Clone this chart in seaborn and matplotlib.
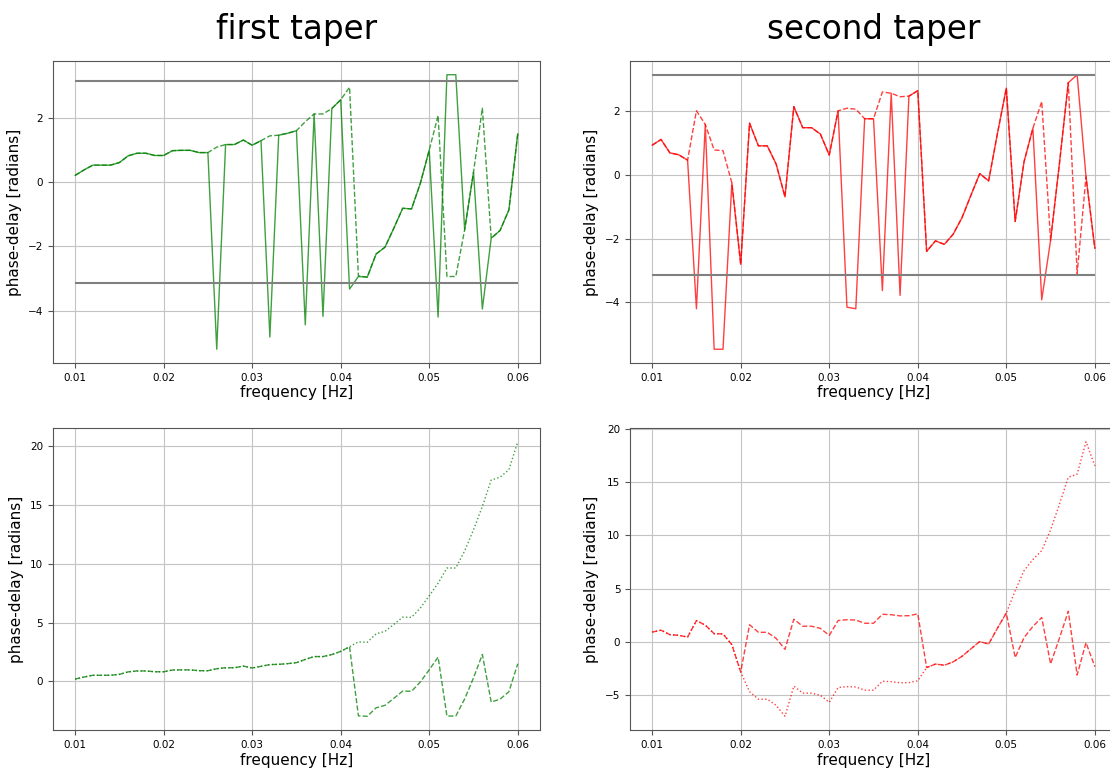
import matplotlib
matplotlib.use("Agg")
import matplotlib.pyplot as plt
import seaborn as sns

# frequency axis, 0.010 .. 0.060 Hz
freq = [round(0.010 + 0.001 * k, 3) for k in range(51)]

# first taper: wrapped phase (solid), wrapped phase (dashed), unwrapped (dotted)
taper1_solid = [0.20, 0.37, 0.52, 0.52, 0.52, 0.60, 0.81, 0.89, 0.89, 0.82,
                0.82, 0.97, 0.98, 0.98, 0.91, 0.91, -5.20, 1.16, 1.16, 1.30,
                1.14, 1.28, -4.82, 1.45, 1.51, 1.59, -4.44, 2.11, -4.18, 2.28,
                2.55, -3.33, -2.94, -2.96, -2.24, -2.03, -1.44, -0.82, -0.84, -0.04,
                0.99, -4.20, 3.33, 3.33, -1.49, 0.30, -3.95, -1.75, -1.51, -0.87,
                1.50]
taper1_dashed = [0.20, 0.37, 0.52, 0.52, 0.52, 0.60, 0.81, 0.89, 0.89, 0.82,
                 0.82, 0.97, 0.98, 0.98, 0.91, 0.91, 1.08, 1.16, 1.16, 1.30,
                 1.14, 1.28, 1.43, 1.45, 1.51, 1.59, 1.87, 2.11, 2.11, 2.28,
                 2.55, 2.94, -2.92, -2.96, -2.24, -2.03, -1.44, -0.82, -0.84, -0.04,
                 0.99, 2.06, -2.94, -2.94, -1.49, 0.30, 2.29, -1.75, -1.51, -0.87,
                 1.50]
taper1_unwrapped = [0.20, 0.37, 0.52, 0.52, 0.52, 0.60, 0.81, 0.89, 0.89, 0.82,
                    0.82, 0.97, 0.98, 0.98, 0.91, 0.91, 1.08, 1.16, 1.16, 1.30,
                    1.14, 1.28, 1.43, 1.45, 1.51, 1.59, 1.87, 2.11, 2.11, 2.28,
                    2.55, 2.94, 3.36, 3.32, 4.04, 4.25, 4.84, 5.46, 5.44, 6.24,
                    7.27, 8.34, 9.63, 9.63, 11.08, 12.87, 14.86, 17.10, 17.34, 17.98,
                    20.35]

# second taper
taper2_solid = [0.93, 1.11, 0.69, 0.63, 0.46, -4.20, 1.58, -5.47, -5.47, -0.25,
                -2.81, 1.62, 0.91, 0.91, 0.34, -0.69, 2.14, 1.48, 1.48, 1.28,
                0.62, 2.01, -4.15, -4.20, 1.76, 1.76, -3.63, 2.56, -3.78, 2.47,
                2.64, -2.40, -2.07, -2.18, -1.86, -1.34, -0.64, 0.04, -0.19, 1.30,
                2.72, -1.46, 0.41, 1.46, -3.92, -2.05, 0.36, 2.89, 3.14, -0.06,
                -2.31]
taper2_dashed = [0.93, 1.11, 0.69, 0.63, 0.46, 2.01, 1.58, 0.78, 0.76, -0.25,
                 -2.81, 1.62, 0.91, 0.91, 0.34, -0.69, 2.14, 1.48, 1.48, 1.28,
                 0.62, 2.01, 2.09, 2.06, 1.76, 1.76, 2.60, 2.56, 2.45, 2.47,
                 2.64, -2.40, -2.07, -2.18, -1.86, -1.34, -0.64, 0.04, -0.19, 1.30,
                 2.72, -1.46, 0.41, 1.46, 2.30, -2.05, 0.36, 2.89, -3.10, -0.06,
                 -2.31]
taper2_unwrapped = [0.93, 1.11, 0.69, 0.63, 0.46, 2.01, 1.58, 0.78, 0.76, -0.25,
                    -2.81, -4.66, -5.37, -5.37, -5.94, -6.97, -4.14, -4.80, -4.80, -5.00,
                    -5.66, -4.27, -4.19, -4.22, -4.52, -4.52, -3.68, -3.72, -3.83, -3.81,
                    -3.64, -2.40, -2.07, -2.18, -1.86, -1.34, -0.64, 0.04, -0.19, 1.30,
                    2.72, 4.82, 6.69, 7.74, 8.58, 10.52, 12.93, 15.46, 15.75, 18.79,
                    16.54]

titles = ["first taper", "second taper"]
colors = ["green", "red"]
pi_lines = [-3.14159, 3.14159]

sns.set_style("ticks", {"axes.grid": True, "grid.color": "#c4c4c4",
                        "axes.edgecolor": "#555555", "text.color": "black",
                        "axes.labelcolor": "black"})
plt.rcParams["font.family"] = ["DejaVu Sans"]
plt.rcParams["xtick.labelsize"] = 7.5
plt.rcParams["ytick.labelsize"] = 7.5

fig = plt.figure(figsize=(11.1, 7.69), dpi=100)
w, h = 0.4387, 0.3927
ax_tl = fig.add_axes([0.0477, 0.5280, w, h])
ax_tr = fig.add_axes([0.5676, 0.5280, w, h])
ax_bl = fig.add_axes([0.0477, 0.0507, w, h])
ax_br = fig.add_axes([0.5676, 0.0507, w, h])

top = [(ax_tl, taper1_solid, taper1_dashed), (ax_tr, taper2_solid, taper2_dashed)]
bottom = [(ax_bl, taper1_dashed, taper1_unwrapped), (ax_br, taper2_dashed, taper2_unwrapped)]

for i, (ax, solid, dashed) in enumerate(top):
    c = colors[i]
    sns.lineplot(x=freq, y=solid, ax=ax, color=c, lw=1, alpha=0.75, errorbar=None)
    sns.lineplot(x=freq, y=dashed, ax=ax, color=c, lw=1, ls="--", alpha=0.75, errorbar=None)
    ax.hlines(pi_lines, freq[0], freq[-1], color="gray", lw=1.5)
    ax.set_title(titles[i], fontsize=23.5, pad=16, color="black")

for i, (ax, dashed, unwrapped) in enumerate(bottom):
    c = colors[i]
    sns.lineplot(x=freq, y=unwrapped, ax=ax, color=c, lw=1, ls=":", alpha=0.75, errorbar=None)
    sns.lineplot(x=freq, y=dashed, ax=ax, color=c, lw=1, ls="--", alpha=0.75, errorbar=None)

for ax in [ax_tl, ax_tr, ax_bl, ax_br]:
    ax.set_xlabel("frequency [Hz]", fontsize=11, labelpad=2, color="black")
    ax.set_ylabel("phase-delay [radians]", fontsize=11, color="black")
    ax.grid(True, color="#c4c4c4", lw=0.8)
    ax.tick_params(length=3.5, width=0.8, colors="#555555", labelcolor="black")

fig.savefig("out.png", dpi=100)
